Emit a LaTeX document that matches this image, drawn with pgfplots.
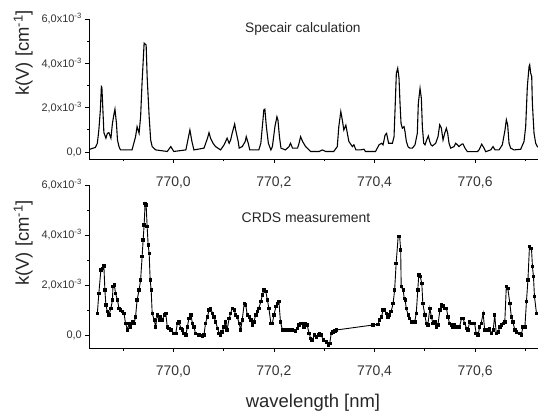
\documentclass[border=0pt]{standalone}
\usepackage{pgfplots}
\pgfplotsset{compat=1.18}
\usepackage{fontspec}
\setmainfont{Liberation Sans}

\pgfplotsset{
  spec/.style={
    scale only axis, width=448.7bp,
    xmin=769.833, xmax=770.725,
    axis lines=left, axis line style={-, line width=0.8pt},
    tick align=outside, major tick length=4bp, minor tick length=2.5bp,
    tick style={line width=0.7pt, black},
    xtick={770.0,770.2,770.4,770.6},
    xticklabels={{770,0},{770,2},{770,4},{770,6}},
    minor xtick={769.9,770.1,770.3,770.5,770.7},
    ytick={0,2,4,6},
    yticklabels={{0,0},{2,0x10\textsuperscript{-3}},{4,0x10\textsuperscript{-3}},{6,0x10\textsuperscript{-3}}},
    minor ytick={1,3,5},
    x tick label style={font=\fontsize{14}{16}\selectfont, text=black!80, yshift=-10bp},
    y tick label style={font=\fontsize{11}{13}\selectfont, text=black!80},
    label style={font=\fontsize{18.5}{20}\selectfont, text=black!85},
    ylabel={k(V) [cm\textsuperscript{-1}]},
    clip=true,
  },
}

\begin{document}
\begin{tikzpicture}
\useasboundingbox (0,0) rectangle (538bp,415bp);

% Specair calculation
\begin{axis}[spec, at={(89.3bp,256bp)}, anchor=south west,
  height=140bp, ymin=-0.32, ymax=6,
  ylabel style={at={(axis description cs:-0.147,0.757)}, anchor=center}]
\addplot[black, line width=1.1pt, sharp plot] coordinates {
(769.834,0.12) (769.845,0.20) (769.849,0.39) (769.852,0.99) (769.855,1.90)
(769.857,2.95) (769.858,2.92) (769.859,2.42) (769.861,1.40) (769.862,0.87)
(769.866,0.62) (769.869,0.84) (769.872,0.87) (769.876,0.62) (769.879,1.29)
(769.882,1.70) (769.884,1.93) (769.886,1.50) (769.887,1.29) (769.889,0.54)
(769.892,0.24) (769.895,0.09) (769.918,0.09) (769.925,0.69) (769.928,1.14)
(769.932,0.84) (769.935,1.59) (769.938,3.18) (769.942,4.91) (769.946,4.83)
(769.948,3.40) (769.952,1.59) (769.955,0.54) (769.958,0.24) (769.965,0.09)
(769.988,0.02) (769.995,0.24) (770.001,0.02) (770.025,0.09) (770.029,0.54)
(770.033,0.99) (770.037,0.47) (770.041,0.09) (770.061,0.17) (770.068,0.62)
(770.071,0.87) (770.074,0.62) (770.079,0.39) (770.084,0.24) (770.094,0.09)
(770.101,0.32) (770.107,0.62) (770.111,0.39) (770.114,0.54) (770.117,0.84)
(770.122,1.26) (770.124,0.99) (770.129,0.47) (770.131,0.17) (770.137,0.24)
(770.143,0.47) (770.145,0.69) (770.149,0.39) (770.152,0.09) (770.170,0.09)
(770.174,0.39) (770.177,1.14) (770.180,1.90) (770.182,1.93) (770.185,1.14)
(770.189,0.39) (770.194,0.09) (770.197,0.24) (770.202,1.14) (770.206,1.59)
(770.208,1.44) (770.211,0.69) (770.214,0.17) (770.223,0.09) (770.230,0.24)
(770.233,0.39) (770.237,0.17) (770.247,0.17) (770.250,0.39) (770.253,0.69)
(770.257,0.47) (770.263,0.24) (770.273,0.02) (770.290,0.02) (770.296,0.09)
(770.303,0.02) (770.319,0.02) (770.326,0.24) (770.329,1.14) (770.333,1.82)
(770.336,1.44) (770.339,0.99) (770.343,1.21) (770.346,0.84) (770.349,0.47)
(770.356,0.24) (770.359,0.32) (770.363,0.09) (770.372,0.09) (770.379,0.12)
(770.382,0.02) (770.402,0.02) (770.409,0.32) (770.414,0.39) (770.417,0.32)
(770.421,0.76) (770.424,0.84) (770.428,0.39) (770.4355,0.39) (770.4388,0.69)
(770.4408,1.90) (770.4434,3.55) (770.4461,3.78) (770.4474,3.55) (770.4487,3.33)
(770.4507,2.20) (770.4527,1.29) (770.4553,1.07) (770.4587,1.14) (770.4606,0.92)
(770.4633,0.47) (770.4666,0.24) (770.4699,0.17) (770.4752,0.17) (770.4805,0.32)
(770.4851,0.84) (770.4871,2.20) (770.4905,2.87) (770.4931,2.42) (770.4951,1.14)
(770.4978,0.39) (770.5004,0.32) (770.5037,0.54) (770.5070,0.72) (770.5097,0.47)
(770.5123,0.32) (770.5150,0.27) (770.5216,0.39) (770.5262,0.69) (770.5296,1.22)
(770.5329,1.07) (770.5362,0.54) (770.5395,0.84) (770.5428,1.07) (770.5455,0.84)
(770.5481,0.39) (770.5514,0.17) (770.5581,0.24) (770.5614,0.39) (770.5647,0.32)
(770.5680,0.24) (770.5733,0.35) (770.5759,0.36) (770.5799,0.17) (770.5846,0.01)
(770.6044,0.01) (770.6078,0.09) (770.6131,0.35) (770.6177,0.17) (770.6210,0.01)
(770.6310,0.09) (770.6356,0.24) (770.6396,0.09) (770.6475,0.09) (770.6541,0.32)
(770.6594,0.99) (770.6621,1.45) (770.6647,1.22) (770.6674,0.39) (770.6707,0.17)
(770.6773,0.09) (770.6906,0.12) (770.6972,0.47) (770.7005,1.14) (770.7038,2.95)
(770.7072,3.85) (770.7085,3.93) (770.7105,3.55) (770.7125,3.40) (770.7138,2.20)
(770.7171,0.84) (770.7204,0.39) (770.7237,0.24) (770.7264,0.21)
};
\node[font=\fontsize{13.8}{16}\selectfont, text=black!85] at (axis description cs:0.476,0.929) {Specair calculation};
\end{axis}

% CRDS measurement
\begin{axis}[spec, at={(89.3bp,67bp)}, anchor=south west,
  height=163bp, ymin=-0.52, ymax=6,
  ylabel style={at={(axis description cs:-0.147,0.644)}, anchor=center},
  xlabel={wavelength [nm]},
  xlabel style={at={(axis description cs:0.4986,-0.337)}, anchor=center}]
\addplot[black, line width=0.9pt, mark=square*, mark size=1.2bp] coordinates {
(769.849,0.87) (769.852,1.67) (769.856,2.60) (769.859,2.67) (769.862,2.76)
(769.864,1.80) (769.866,1.20) (769.869,0.93) (769.872,0.80) (769.876,1.07)
(769.879,1.40) (769.880,1.93) (769.883,2.00) (769.885,1.67) (769.889,1.40)
(769.892,1.07) (769.895,1.00) (769.899,0.93) (769.902,0.87) (769.905,0.47)
(769.909,0.20) (769.912,0.47) (769.915,0.33) (769.919,0.53) (769.922,0.47)
(769.925,0.73) (769.928,1.40) (769.932,1.80) (769.935,2.20) (769.938,3.13)
(769.940,3.80) (769.942,4.40) (769.944,5.27) (769.946,5.20) (769.948,4.33)
(769.950,3.60) (769.952,3.27) (769.954,2.20) (769.956,1.80) (769.958,0.87)
(769.962,0.60) (769.965,0.33) (769.968,0.80) (769.972,0.60) (769.975,0.73)
(769.978,0.60) (769.982,0.80) (769.985,0.87) (769.988,0.33) (769.991,0.27)
(769.995,0.20) (770.001,0.07) (770.005,0.07) (770.008,0.47) (770.011,0.53)
(770.015,0.27) (770.018,0.20) (770.021,0.07) (770.025,0.00) (770.028,0.33)
(770.031,0.67) (770.035,0.80) (770.038,0.47) (770.041,0.33) (770.044,0.07)
(770.051,0.00) (770.058,-0.04) (770.061,0.00) (770.064,0.47) (770.068,0.73)
(770.071,1.00) (770.074,1.07) (770.078,0.87) (770.081,0.73) (770.084,0.53)
(770.088,0.27) (770.091,0.07) (770.094,0.00) (770.097,0.13) (770.101,0.33)
(770.104,0.53) (770.107,0.20) (770.111,0.67) (770.114,0.87) (770.117,1.07)
(770.121,1.00) (770.124,0.80) (770.127,0.73) (770.131,0.47) (770.134,0.20)
(770.137,0.60) (770.141,1.27) (770.144,1.20) (770.147,0.80) (770.151,0.73)
(770.154,0.60) (770.157,0.40) (770.160,0.53) (770.164,0.80) (770.167,0.93)
(770.170,1.07) (770.174,1.33) (770.177,1.60) (770.180,1.80) (770.184,1.73)
(770.187,1.40) (770.190,1.07) (770.194,0.47) (770.197,0.47) (770.200,0.80)
(770.204,1.13) (770.207,1.27) (770.210,1.33) (770.213,0.53) (770.217,0.20)
(770.223,0.20) (770.230,0.20) (770.237,0.20) (770.243,0.17) (770.247,0.27)
(770.250,0.40) (770.253,0.47) (770.257,0.47) (770.260,0.33) (770.263,0.47)
(770.266,0.40) (770.270,0.07) (770.273,-0.13) (770.276,-0.20) (770.281,0.00)
(770.284,-0.07) (770.288,0.00) (770.291,0.04) (770.294,0.00) (770.298,-0.20)
(770.304,-0.27) (770.308,-0.40) (770.311,-0.33) (770.314,0.07) (770.317,0.13)
(770.321,0.17) (770.324,0.20) (770.397,0.40) (770.407,0.43) (770.410,0.60)
(770.414,0.73) (770.417,1.00) (770.420,1.00) (770.424,0.87) (770.427,0.73)
(770.430,0.80) (770.433,0.93) (770.437,1.27) (770.440,1.80) (770.443,2.87)
(770.447,3.93) (770.450,3.93) (770.452,3.40) (770.453,1.93) (770.457,1.80)
(770.459,1.47) (770.461,1.40) (770.463,1.07) (770.467,0.80) (770.470,0.67)
(770.473,0.53) (770.477,0.53) (770.480,0.53) (770.483,0.87) (770.486,1.80)
(770.488,2.40) (770.491,2.33) (770.494,2.07) (770.496,1.27) (770.500,0.80)
(770.503,0.47) (770.506,0.40) (770.510,1.07) (770.513,0.73) (770.516,0.47)
(770.520,0.53) (770.523,0.33) (770.526,0.40) (770.530,1.00) (770.533,1.20)
(770.536,1.16) (770.540,1.07) (770.543,1.07) (770.546,0.73) (770.549,0.47)
(770.553,0.40) (770.556,0.33) (770.559,0.40) (770.563,0.33) (770.569,0.33)
(770.573,0.67) (770.576,0.67) (770.579,0.47) (770.583,0.27) (770.586,0.20)
(770.589,0.53) (770.593,0.47) (770.596,0.47) (770.599,0.47) (770.602,0.07)
(770.606,0.00) (770.609,0.33) (770.612,0.47) (770.616,0.87) (770.619,0.20)
(770.622,0.20) (770.626,0.20) (770.629,0.27) (770.632,0.07) (770.636,0.20)
(770.639,0.80) (770.642,0.07) (770.646,0.13) (770.649,0.33) (770.652,0.40)
(770.656,0.47) (770.659,0.53) (770.662,1.93) (770.665,1.87) (770.669,1.27)
(770.672,0.73) (770.675,0.53) (770.679,0.20) (770.682,0.13) (770.689,0.07)
(770.692,0.00) (770.695,0.33) (770.699,0.33) (770.702,1.33) (770.705,2.20)
(770.708,3.53) (770.712,3.47) (770.714,2.73) (770.716,2.33) (770.718,1.53)
(770.722,0.87) (770.724,0.87)
};
\node[font=\fontsize{14}{16}\selectfont, text=black!85] at (axis description cs:0.483,0.798) {CRDS measurement};
\end{axis}
\end{tikzpicture}
\end{document}
